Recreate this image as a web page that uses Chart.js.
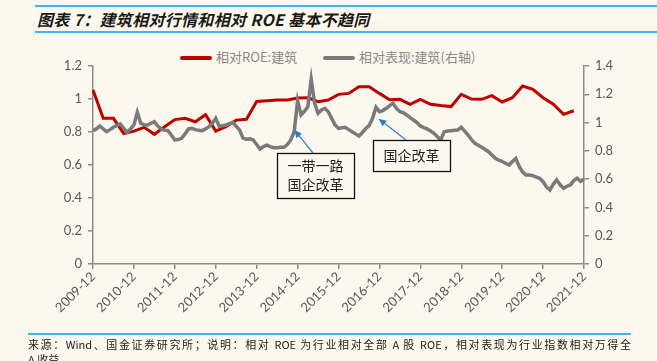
<!DOCTYPE html>
<html><head><meta charset="utf-8">
<script src="https://cdn.jsdelivr.net/npm/chart.js@4.4.1/dist/chart.umd.min.js"></script>
<style>
html,body{margin:0;padding:0;background:#FCF8EE;width:657px;height:361px;overflow:hidden;position:relative;font-family:"Noto Sans CJK SC","Noto Sans",sans-serif;}
#c{position:absolute;left:0;top:0;}
.hl{position:absolute;height:2px;background:#41B6EE;}
#title{position:absolute;left:37px;top:7px;font-size:16px;font-weight:bold;font-style:italic;color:#1a1a1a;letter-spacing:0.3px;white-space:nowrap;}
#legend{position:absolute;top:47px;left:0;width:657px;font-size:13px;color:#8a8a8a;white-space:nowrap;}
.li{position:absolute;top:0;height:20px;line-height:20px;}
.sw{display:inline-block;width:32px;height:4px;vertical-align:middle;margin-right:4px;border-radius:2px;}
#foot{position:absolute;left:28px;top:337px;width:603px;font-size:11px;line-height:15px;color:#222;text-align:justify;text-align-last:justify;}
#foot2{position:absolute;left:28px;top:352px;font-size:11px;line-height:15px;color:#222;}
</style></head>
<body>
<div class="hl" style="left:35px;top:5px;width:622px;"></div>
<div class="hl" style="left:35px;top:31px;width:622px;"></div>
<div id="title">图表 7：建筑相对行情和相对 ROE 基本不趋同</div>
<div id="legend">
  <div class="li" style="left:180px;"><span class="sw" style="background:#C00000"></span>相对ROE:建筑</div>
  <div class="li" style="left:323px;"><span class="sw" style="background:#7A7A7A"></span>相对表现:建筑(右轴)</div>
</div>
<canvas id="c" width="657" height="361"></canvas>
<div class="hl" style="left:28px;top:333px;width:603px;"></div>
<div id="foot">来源：Wind、国金证券研究所；说明：相对 ROE 为行业相对全部 A 股 ROE，相对表现为行业指数相对万得全</div>
<div id="foot2">A 收益</div>
<script>
// ---- data ----
const startYear = 2009, startMonth = 12, monthCount = 145;
const yearTickLabels = ["2009-12","2010-12","2011-12","2012-12","2013-12","2014-12","2015-12","2016-12","2017-12","2018-12","2019-12","2020-12","2021-12"];
// quarterly relative ROE, from 2009-12 every 3 months
const roeValues = [1.055,0.883,0.883,0.79,0.805,0.828,0.786,0.832,0.875,0.883,0.862,0.905,
  0.806,0.832,0.872,0.877,0.985,0.99,0.994,0.994,1.006,1.008,0.984,0.994,
  1.028,1.034,1.075,1.075,1.034,0.996,0.998,0.968,0.998,0.968,0.96,0.954,
  1.028,1.0,0.998,1.02,0.982,1.008,1.079,1.059,1.008,0.968,0.907,0.929];
// monthly relative performance (right axis), from 2009-12
const perfValues = [0.943,0.955,0.976,0.955,0.936,0.95,0.967,0.98,0.99,0.96,0.931,0.955,
  0.983,1.073,0.995,0.985,0.983,0.995,1.006,0.975,0.955,0.945,0.943,0.91,
  0.877,0.88,0.889,0.92,0.955,0.959,0.95,0.945,0.943,0.955,0.971,0.995,
  1.03,0.975,0.978,0.983,0.993,1.002,0.975,0.947,0.89,0.882,0.885,0.877,
  0.845,0.813,0.83,0.841,0.83,0.822,0.822,0.825,0.825,0.845,0.877,0.935,
  1.155,1.054,1.08,1.112,1.306,1.136,1.066,1.089,1.101,1.077,1.03,0.983,
  0.959,0.963,0.967,0.95,0.935,0.92,0.905,0.93,0.959,0.98,1.03,1.108,
  1.077,1.085,1.101,1.12,1.136,1.1,1.077,1.07,1.054,1.035,1.018,1.0,
  0.976,0.965,0.955,0.94,0.924,0.9,0.877,0.935,0.94,0.943,0.945,0.947,
  0.967,0.94,0.912,0.88,0.853,0.84,0.825,0.81,0.794,0.77,0.747,0.735,
  0.725,0.712,0.70,0.725,0.747,0.69,0.65,0.629,0.629,0.625,0.615,0.606,
  0.582,0.545,0.523,0.565,0.594,0.56,0.535,0.55,0.559,0.59,0.606,0.585,0.60];
const leftTicks = [0,0.2,0.4,0.6,0.8,1,1.2];
const rightTicks = [0,0.2,0.4,0.6,0.8,1,1.2,1.4];

// month labels
const monthLabels = [];
for (let i = 0; i < monthCount; i++) {
  const m0 = startMonth - 1 + i;
  const y = startYear + Math.floor(m0 / 12), m = (m0 % 12) + 1;
  monthLabels.push(y + "-" + String(m).padStart(2, "0"));
}
const roeData = roeValues.map((v, i) => ({x: monthLabels[i * 3], y: v}));

const annotations = [
  {lines:["一带一路","国企改革"], box:[277,153,77,45], from:[313,153], tipIndex:59, tipDx:0, tipDy:-2},
  {lines:["国企改革"], box:[373,140,77,31], from:[406,140], tipIndex:84, tipDx:-1, tipDy:7}
];

const annotPlugin = {
  id:'annot',
  afterDatasetsDraw(chart){
    const ctx = chart.ctx, xs = chart.scales.x, ys = chart.scales.y1;
    ctx.save();
    annotations.forEach(a => {
      const [bx,by,bw,bh] = a.box;
      ctx.fillStyle = '#FCF8EE';
      ctx.fillRect(bx,by,bw,bh);
      ctx.strokeStyle = '#111'; ctx.lineWidth = 1.3;
      ctx.strokeRect(bx+0.5,by+0.5,bw,bh);
      ctx.fillStyle = '#222';
      ctx.font = '14px "Noto Sans CJK SC"';
      ctx.textAlign='center'; ctx.textBaseline='middle';
      const lh = 19, cy = by + bh/2 - (a.lines.length-1)*lh/2;
      a.lines.forEach((t,i)=>ctx.fillText(t, bx+bw/2, cy+i*lh));
      const tx = xs.getPixelForValue(a.tipIndex) + a.tipDx;
      const ty = ys.getPixelForValue(perfValues[a.tipIndex]) + a.tipDy;
      const [fx,fy] = a.from;
      ctx.strokeStyle = '#2F7FC8'; ctx.fillStyle = '#2F7FC8'; ctx.lineWidth = 1.2;
      const ang = Math.atan2(ty-fy, tx-fx);
      const hl = 8, hw = 3.5;
      const bxp = tx - hl*Math.cos(ang), byp = ty - hl*Math.sin(ang);
      ctx.beginPath(); ctx.moveTo(fx,fy); ctx.lineTo(bxp,byp); ctx.stroke();
      ctx.beginPath();
      ctx.moveTo(tx,ty);
      ctx.lineTo(bxp + hw*Math.sin(ang), byp - hw*Math.cos(ang));
      ctx.lineTo(bxp - hw*Math.sin(ang), byp + hw*Math.cos(ang));
      ctx.closePath(); ctx.fill();
    });
    ctx.restore();
  }
};

const axisColor = '#8C8C8C', tickColor = '#595959';
const tickFont = {family:'Lato', size:13};
new Chart(document.getElementById('c'), {
  type:'line',
  data:{
    labels: monthLabels,
    datasets:[
      {label:'相对ROE:建筑', data: roeData, yAxisID:'y', borderColor:'#C00000', borderWidth:3, pointRadius:0, tension:0, spanGaps:true, order:1},
      {label:'相对表现:建筑(右轴)', data: perfValues, yAxisID:'y1', borderColor:'#7A7A7A', borderWidth:3.5, pointRadius:0, tension:0, order:0}
    ]
  },
  options:{
    responsive:false, animation:false,
    layout:{padding:{left:48, right:23, top:66, bottom:30}},
    plugins:{legend:{display:false}, tooltip:{enabled:false}},
    scales:{
      x:{
        type:'category', offset:false,
        grid:{display:true, drawOnChartArea:false, drawTicks:true, tickLength:5, color:axisColor, lineWidth:1.5},
        border:{display:true, color:axisColor, width:1.5},
        ticks:{autoSkip:false, maxRotation:45, minRotation:45, color:tickColor, font:tickFont, padding:0,
          callback:(v,i)=> (i % 12 === 0 ? yearTickLabels[i/12] : null)},
        afterFit:s=>{s.height = 67;}
      },
      y:{
        position:'left', min:0, max:1.2,
        afterBuildTicks:s=>{s.ticks = leftTicks.map(v=>({value:v}));},
        grid:{display:true, drawOnChartArea:false, drawTicks:true, tickLength:5, color:axisColor, lineWidth:1.5},
        border:{display:true, color:axisColor, width:1.5},
        ticks:{color:tickColor, font:tickFont, padding:6, callback:v=>String(v)},
        afterFit:s=>{s.width = 45;}
      },
      y1:{
        position:'right', min:0, max:1.4,
        afterBuildTicks:s=>{s.ticks = rightTicks.map(v=>({value:v}));},
        grid:{display:true, drawOnChartArea:false, drawTicks:true, tickLength:5, color:axisColor, lineWidth:1.5},
        border:{display:true, color:axisColor, width:1.5},
        ticks:{color:tickColor, font:tickFont, padding:6, callback:v=>String(v)},
        afterFit:s=>{s.width = 50;}
      }
    }
  },
  plugins:[annotPlugin]
});
</script>
</body></html>
